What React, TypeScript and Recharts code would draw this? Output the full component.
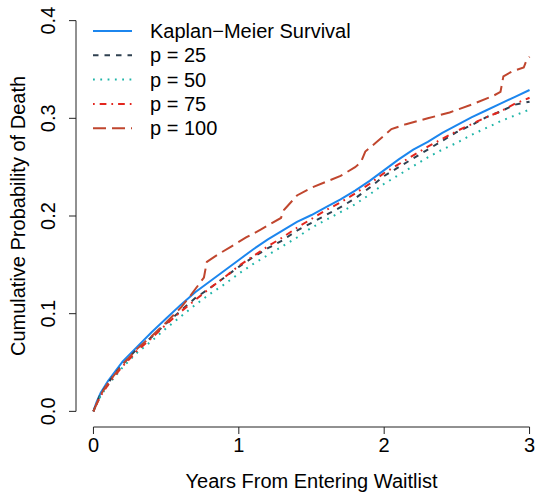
import React from "react"
import { LineChart, Line, XAxis, YAxis, ReferenceLine, Legend } from "recharts"

// shared time grid (years) for the smoothed curves
const years = [0, 0.02, 0.05, 0.1, 0.15, 0.2, 0.3, 0.4, 0.5, 0.6, 0.7, 0.8, 0.9, 1.0, 1.1, 1.2, 1.3, 1.4, 1.5, 1.6, 1.7, 1.8, 1.9, 2.0, 2.1, 2.2, 2.3, 2.4, 2.5, 2.6, 2.7, 2.8, 2.9, 3.0]

const kmRisk = [0, 0.009, 0.019, 0.031, 0.041, 0.051, 0.066, 0.081, 0.095, 0.109, 0.122, 0.133, 0.144, 0.155, 0.166, 0.176, 0.185, 0.194, 0.201, 0.209, 0.217, 0.226, 0.236, 0.247, 0.258, 0.268, 0.276, 0.285, 0.293, 0.301, 0.308, 0.315, 0.322, 0.329]
const p25Risk = [0, 0.008, 0.018, 0.029, 0.039, 0.048, 0.064, 0.076, 0.09, 0.103, 0.116, 0.126, 0.137, 0.148, 0.158, 0.167, 0.175, 0.185, 0.193, 0.201, 0.209, 0.218, 0.229, 0.241, 0.25, 0.259, 0.268, 0.277, 0.286, 0.293, 0.301, 0.307, 0.314, 0.317]
const p50Risk = [0, 0.007, 0.016, 0.027, 0.036, 0.045, 0.06, 0.072, 0.085, 0.097, 0.109, 0.12, 0.13, 0.141, 0.151, 0.16, 0.169, 0.178, 0.188, 0.196, 0.204, 0.212, 0.222, 0.233, 0.242, 0.251, 0.26, 0.268, 0.275, 0.283, 0.29, 0.297, 0.303, 0.309]
const p75Risk = [0, 0.007, 0.016, 0.027, 0.037, 0.046, 0.062, 0.075, 0.089, 0.102, 0.114, 0.126, 0.137, 0.149, 0.159, 0.169, 0.178, 0.188, 0.197, 0.206, 0.214, 0.223, 0.233, 0.244, 0.253, 0.262, 0.271, 0.279, 0.287, 0.294, 0.301, 0.307, 0.315, 0.321]

// p = 100 has visible steps, so it keeps its own time points
const p100Years = [0, 0.05, 0.1, 0.2, 0.3, 0.4, 0.5, 0.6, 0.67, 0.76, 0.78, 0.85, 0.95, 1.05, 1.15, 1.22, 1.29, 1.31, 1.4, 1.5, 1.6, 1.7, 1.8, 1.84, 1.87, 1.95, 2.05, 2.15, 2.3, 2.45, 2.6, 2.75, 2.8, 2.82, 2.88, 2.96, 2.98, 3.0]
const p100Risk = [0, 0.017, 0.029, 0.048, 0.064, 0.077, 0.091, 0.106, 0.119, 0.137, 0.153, 0.16, 0.169, 0.178, 0.186, 0.192, 0.198, 0.206, 0.221, 0.229, 0.235, 0.241, 0.25, 0.255, 0.266, 0.276, 0.289, 0.294, 0.3, 0.306, 0.314, 0.323, 0.327, 0.343, 0.348, 0.352, 0.36, 0.363]

const xTicks = [0, 1, 2, 3]
const yTicks = [0, 0.1, 0.2, 0.3, 0.4]

const toPoints = (ts: number[], vs: number[]) => ts.map((t, i) => ({ t, p: vs[i] }))

const series = [
  { name: "Kaplan\u2212Meier Survival", data: toPoints(years, kmRisk), color: "#1C86EE", dash: undefined },
  { name: "p = 25", data: toPoints(years, p25Risk), color: "#2F4050", dash: "5.5 6" },
  { name: "p = 50", data: toPoints(years, p50Risk), color: "#1FB5A8", dash: "1.8 5.5" },
  { name: "p = 75", data: toPoints(years, p75Risk), color: "#E3261E", dash: "1.7 5 6.7 5" },
  { name: "p = 100", data: toPoints(p100Years, p100Risk), color: "#C0462E", dash: "13 6" },
]

const FONT = "'Liberation Sans', Arial, Helvetica, sans-serif"
const AXIS = "#222"

function YTick({ x, y, payload }: any) {
  return (
    <text x={x} y={y} transform={`rotate(-90, ${x}, ${y})`} textAnchor="middle" fontSize={20} fontFamily={FONT} fill="#000">
      {Number(payload.value).toFixed(1)}
    </text>
  )
}

function LegendBox() {
  return (
    <svg width={380} height={145} style={{ fontFamily: FONT }}>
      {series.map((s, i) => {
        const cy = 31 + i * 24.3
        return (
          <g key={s.name}>
            <line x1={93} x2={132} y1={cy} y2={cy} stroke={s.color} strokeWidth={2} strokeDasharray={s.dash} />
            <text x={150} y={cy + 7} fontSize={20} fill="#000">{s.name}</text>
          </g>
        )
      })}
    </svg>
  )
}

export default function App() {
  return (
    <div style={{ position: "absolute", left: 0, top: 0, width: 536, height: 492, overflow: "hidden", background: "#fff" }}>
      <LineChart width={547} height={492} margin={{ top: 5, right: 0, bottom: 0, left: 0 }}>
        <XAxis
          dataKey="t"
          type="number"
          domain={[-0.12, 3.12]}
          ticks={xTicks}
          height={65}
          axisLine={false}
          tickLine={{ stroke: AXIS }}
          tickSize={7}
          tickMargin={4}
          tick={{ fontSize: 20, fill: "#000", fontFamily: FONT }}
          allowDuplicatedCategory={false}
          label={{
            content: ({ viewBox }: any) => (
              <text x={viewBox.x + viewBox.width / 2} y={viewBox.y + 61} textAnchor="middle" fontSize={20} fontFamily={FONT} fill="#000">
                Years From Entering Waitlist
              </text>
            ),
          }}
        />
        <YAxis
          type="number"
          domain={[-0.016, 0.416]}
          ticks={yTicks}
          width={76}
          axisLine={false}
          tickLine={{ stroke: AXIS }}
          tickSize={7}
          tickMargin={14}
          tick={<YTick />}
          label={{
            content: ({ viewBox }: any) => {
              const cx = 25
              const cy = viewBox.y + viewBox.height / 2
              return (
                <text x={cx} y={cy} transform={`rotate(-90, ${cx}, ${cy})`} textAnchor="middle" fontSize={20} fontFamily={FONT} fill="#000">
                  Cumulative Probability of Death
                </text>
              )
            },
          }}
        />
        <ReferenceLine segment={[{ x: 0, y: -0.016 }, { x: 3, y: -0.016 }]} stroke={AXIS} strokeWidth={1} ifOverflow="visible" />
        <ReferenceLine segment={[{ x: -0.12, y: 0 }, { x: -0.12, y: 0.4 }]} stroke={AXIS} strokeWidth={1} ifOverflow="visible" />
        {series.map((s) => (
          <Line
            key={s.name}
            data={s.data}
            dataKey="p"
            name={s.name}
            type="linear"
            stroke={s.color}
            strokeWidth={2}
            strokeDasharray={s.dash}
            dot={false}
            activeDot={false}
            isAnimationActive={false}
          />
        ))}
        <Legend
          layout="vertical"
          align="center"
          verticalAlign="middle"
          wrapperStyle={{ top: 0, left: 0, width: 380, height: 145 }}
          content={() => <LegendBox />}
        />
      </LineChart>
    </div>
  )
}
